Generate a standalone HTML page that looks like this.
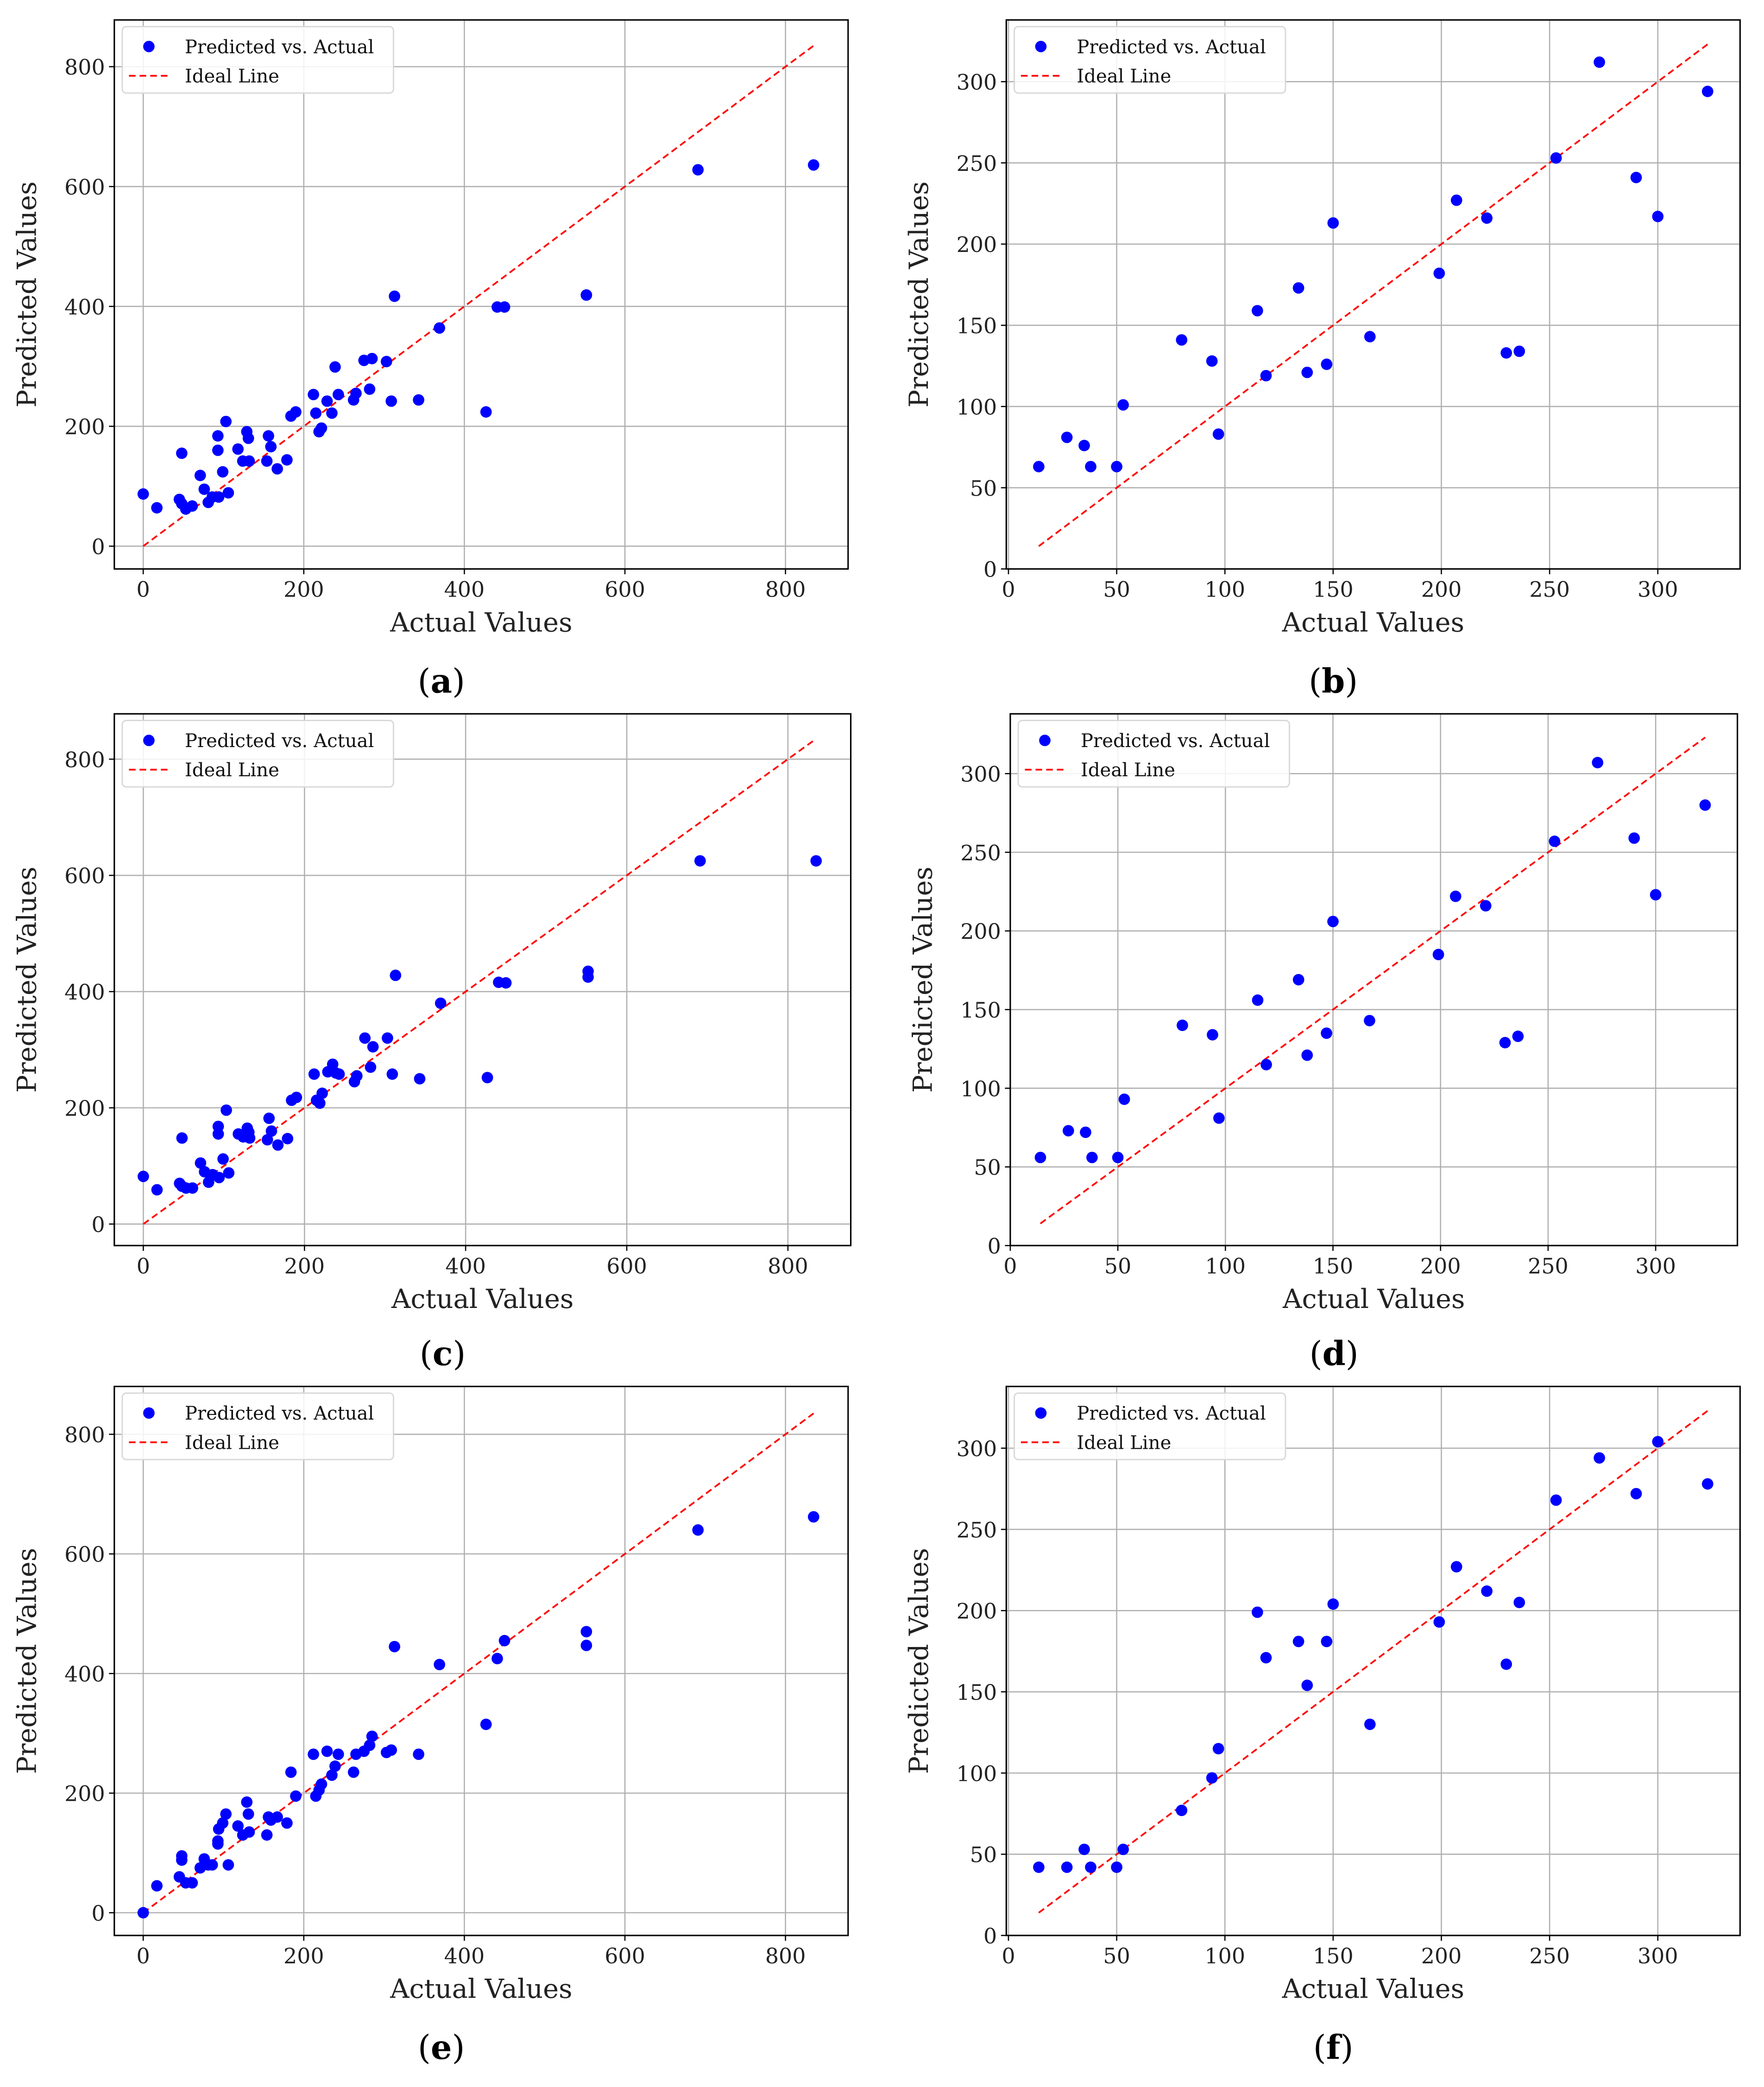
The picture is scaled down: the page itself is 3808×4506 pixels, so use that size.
<!DOCTYPE html>
<html><head><meta charset="utf-8"><style>
html,body{margin:0;padding:0;background:#fff;}
svg{display:block;}
text{font-family:"DejaVu Serif","Liberation Serif",serif;}
</style></head><body>
<svg id="fig" width="3808" height="4506" viewBox="0 0 1327 1570" preserveAspectRatio="none" xmlns="http://www.w3.org/2000/svg"></svg>
<script>
const actualBig = [0,17,48,45,48,53,61,71,76,81,86,93,93,94,99,103,106,118,124,129,131,132,154,156,159,167,179,184,190,212,215,219,222,229,235,239,243,262,265,275,285,282,303,309,313,369,343,427,441,450,552,552,691,835];
const predA = [87,64,155,78,71,62,67,118,95,73,82,184,160,82,124,208,89,162,142,191,180,142,142,184,166,129,144,217,224,253,222,191,197,242,222,299,253,244,255,310,313,262,308,242,417,364,244,224,399,399,419,419,628,636];
const predC = [82,59,148,70,65,62,62,105,90,72,85,168,155,80,112,196,88,155,150,165,158,148,145,182,160,136,147,213,218,258,213,208,225,262,275,260,258,245,255,320,305,270,320,258,428,380,250,252,416,415,435,425,625,625];
const predE = [0,45,95,60,88,50,50,75,90,80,80,120,115,140,150,165,80,145,130,185,165,135,130,160,155,160,150,235,195,265,195,205,215,270,230,245,265,235,265,270,295,280,268,272,445,415,265,315,425,455,470,447,640,662];
const actualSmall = [14,27,35,38,50,53,80,94,97,115,119,134,138,147,150,167,199,207,221,230,236,253,273,290,300,323];
const predB = [63,81,76,63,63,101,141,128,83,159,119,173,121,126,213,143,182,227,216,133,134,253,312,241,217,294];
const predD = [56,73,72,56,56,93,140,134,81,156,115,169,121,135,206,143,185,222,216,129,133,257,307,259,223,280];
const predF = [42,42,53,42,42,53,77,97,115,199,171,181,154,181,204,130,193,227,212,167,205,268,294,272,304,278];
const ticksBig = [0,200,400,600,800];
const ticksSmall = [0,50,100,150,200,250,300];

const NS = "http://www.w3.org/2000/svg";
const fig = document.getElementById('fig');
function mk(tag, attrs, parent, txt){
  const e = document.createElementNS(NS, tag);
  for (const k in attrs) e.setAttribute(k, attrs[k]);
  if (txt !== undefined) e.textContent = txt;
  (parent||fig).appendChild(e);
  return e;
}
function panel(id, box, xd, yd, xs, ys, ticks, caption, capY){
  const g = mk('g', {});
  
  
  const [L,R,T,B] = box;
  const sx = v => L + (v - xd[0]) / (xd[1] - xd[0]) * (R - L);
  const sy = v => B - (v - yd[0]) / (yd[1] - yd[0]) * (B - T);
  ticks.forEach(t => {
    const gx = mk('line', {x1:sx(t), x2:sx(t), y1:T, y2:B, stroke:'#b0b0b0', 'stroke-width':0.9}, g);
    
    
    const gy = mk('line', {x1:L, x2:R, y1:sy(t), y2:sy(t), stroke:'#b0b0b0', 'stroke-width':0.9}, g);
    
    
    mk('line', {x1:sx(t), x2:sx(t), y1:B, y2:B+4, stroke:'#000', 'stroke-width':0.9}, g);
    mk('line', {x1:L-4, x2:L, y1:sy(t), y2:sy(t), stroke:'#000', 'stroke-width':0.9}, g);
    const xt = mk('text', {x:sx(t), y:B+21, 'font-size':16, 'text-anchor':'middle', fill:'#222'}, g, String(t));
    
    
    const yt = mk('text', {x:L-7, y:sy(t)+6, 'font-size':16, 'text-anchor':'end', fill:'#222'}, g, String(t));
    
    
  });
  const mn = Math.min(...xs), mx = Math.max(...xs);
  const ln = mk('line', {x1:sx(mn), y1:sy(mn), x2:sx(mx), y2:sy(mx), stroke:'#ff0000', 'stroke-width':1.3, 'stroke-dasharray':'5,3'}, g);
  
  
  xs.forEach((x, i) => {
    const c = mk('circle', {cx:sx(x), cy:sy(ys[i]), r:4.3, fill:'#0000ff'}, g);
    
    
  });
  const fr = mk('rect', {x:L, y:T, width:R-L, height:B-T, fill:'none', stroke:'#000', 'stroke-width':1.1}, g);
  
  
  const lg = mk('g', {}, g);
  
  
  mk('rect', {x:L+6, y:T+5, width:204, height:50, rx:3, fill:'#fff', 'fill-opacity':0.85, stroke:'#d8d8d8', 'stroke-width':1}, lg);
  mk('circle', {cx:L+26, cy:T+20, r:4.3, fill:'#0000ff'}, lg);
  mk('text', {x:L+53, y:T+25, 'font-size':14, fill:'#111'}, lg, 'Predicted vs. Actual');
  mk('line', {x1:L+11, x2:L+41, y1:T+42, y2:T+42, stroke:'#ff0000', 'stroke-width':1.3, 'stroke-dasharray':'5,3'}, lg);
  mk('text', {x:L+53, y:T+47, 'font-size':14, fill:'#111'}, lg, 'Ideal Line');
  const xl = mk('text', {x:(L+R)/2, y:B+47, 'font-size':20, 'text-anchor':'middle', fill:'#222'}, g, 'Actual Values');
  
  
  const yc = (T+B)/2, yx = L-59;
  const yl = mk('text', {x:yx, y:yc, 'font-size':20, 'text-anchor':'middle', fill:'#222', transform:`rotate(-90 ${yx} ${yc})`}, g, 'Predicted Values');
  
  
  const cp = mk('text', {x:(L+R)/2 - 30, y:capY, 'font-size':25, 'text-anchor':'middle', fill:'#000', 'font-family':'Liberation Serif, serif'}, g);
  
  
  mk('tspan', {}, cp, '(');
  mk('tspan', {'font-weight':'bold'}, cp, caption);
  mk('tspan', {}, cp, ')');
}
panel('a', [86,638,15,428], [-36,878], [-38,878], actualBig, predA, ticksBig, 'a', 521);
panel('b', [757,1309,15,428], [-1,338], [0,338], actualSmall, predB, ticksSmall, 'b', 521);
panel('c', [86,640,537,937], [-36,878], [-37,878], actualBig, predC, ticksBig, 'c', 1027);
panel('d', [760,1307,537,937], [0,338], [0,338], actualSmall, predD, ticksSmall, 'd', 1027);
panel('e', [86,638,1043,1456], [-36,878], [-38,880], actualBig, predE, ticksBig, 'e', 1549);
panel('f', [757,1309,1043,1456], [-1,338], [0,338], actualSmall, predF, ticksSmall, 'f', 1549);
</script>
</body></html>
